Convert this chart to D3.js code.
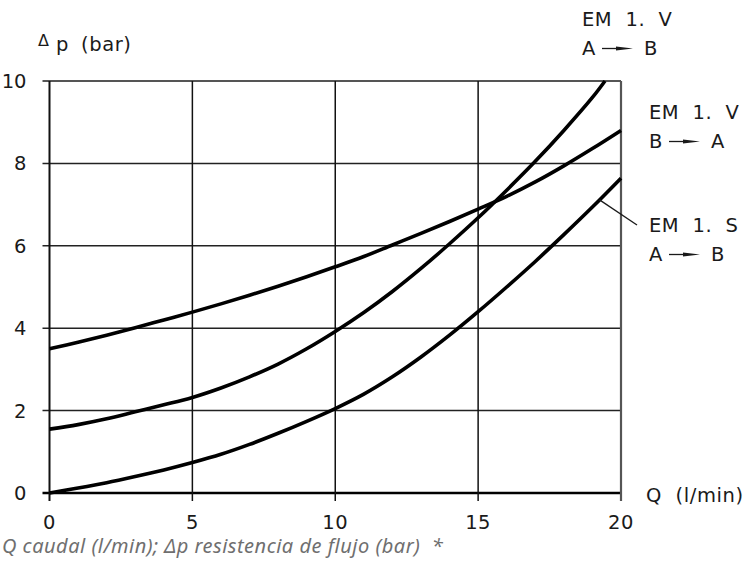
<!DOCTYPE html>
<html>
<head>
<meta charset="utf-8">
<script src="https://d3js.org/d3.v7.min.js"></script>
<style>
  body { margin: 0; background: #fff; }
  text { white-space: pre; }
</style>
</head>
<body>
<svg id="drawing_region"></svg>
<script>
// Q (l/min) and pressure drop (bar)
const flowQ = [0,1,2,3,4,5,6,7,8,9,10,11,12,13,14,15,16,17,18,19,20];
const dpV_BA = [3.5,3.66,3.83,4.01,4.2,4.39,4.59,4.8,5.02,5.25,5.49,5.74,6.02,6.3,6.59,6.89,7.2,7.55,7.94,8.36,8.8];
const flowQ_VAB = [0,1,2,3,4,5,6,7,8,9,10,11,12,13,14,15,16,17,18,19,19.44];
const dpV_AB = [1.55,1.66,1.8,1.97,2.14,2.32,2.55,2.82,3.13,3.5,3.92,4.38,4.89,5.45,6.05,6.68,7.35,8.05,8.8,9.6,10];
const dpS_AB = [0,0.12,0.25,0.4,0.56,0.74,0.94,1.18,1.45,1.74,2.05,2.4,2.82,3.3,3.83,4.4,5.0,5.62,6.27,6.94,7.64];

const xTicks = [0,5,10,15,20];
const yTicks = [0,2,4,6,8,10];

const seriesLabels = [
    { line1: "EM  1.  V", from: "A", to: "B" },
    { line1: "EM  1.  V", from: "B", to: "A" },
    { line1: "EM  1.  S", from: "A", to: "B" }
];

const caption = "Q caudal (l/min); \u0394p resistencia de flujo (bar)  *";

const config = {
    parent: '#drawing_region',
    width: 747,
    height: 566,
    margin: {top:81, right:126, bottom:73, left:49.5}
};

const font = "'DejaVu Sans', sans-serif";
const ink = '#1a1a1a';

const svg = d3.select(config.parent)
    .attr('width', config.width)
    .attr('height', config.height);

const inner_width = config.width - config.margin.left - config.margin.right;
const inner_height = config.height - config.margin.top - config.margin.bottom;

const chart = svg.append('g')
    .attr('transform', `translate(${config.margin.left}, ${config.margin.top})`);

const xscale = d3.scaleLinear().domain([0, 20]).range([0, inner_width]);
const yscale = d3.scaleLinear().domain([0, 10]).range([inner_height, 0]);

// grid: horizontal lines stick out to the left, vertical ones below
chart.selectAll('.hgrid')
    .data(yTicks)
    .join('line')
    .attr('x1', -7)
    .attr('x2', inner_width)
    .attr('y1', d => yscale(d))
    .attr('y2', d => yscale(d))
    .attr('stroke', d => d === 10 ? '#555' : (d === 0 ? '#000' : '#222'))
    .attr('stroke-width', d => d === 0 ? 2.6 : (d === 10 ? 2.2 : 1.5));

chart.selectAll('.vgrid')
    .data(xTicks)
    .join('line')
    .attr('x1', d => xscale(d))
    .attr('x2', d => xscale(d))
    .attr('y1', 0)
    .attr('y2', inner_height + 8)
    .attr('stroke', d => d === 20 ? '#555' : '#111')
    .attr('stroke-width', d => d === 20 ? 2.2 : (d === 0 ? 2 : 1.5));

// tick labels
chart.selectAll('.ylab')
    .data(yTicks)
    .join('text')
    .attr('x', -23)
    .attr('y', d => yscale(d) + 7)
    .attr('text-anchor', 'end')
    .attr('font-family', font)
    .attr('font-size', '19.5px')
    .attr('fill', ink)
    .text(d => d);

chart.selectAll('.xlab')
    .data(xTicks)
    .join('text')
    .attr('x', d => xscale(d))
    .attr('y', inner_height + 36)
    .attr('text-anchor', 'middle')
    .attr('font-family', font)
    .attr('font-size', '19.5px')
    .attr('letter-spacing', '0.5px')
    .attr('fill', ink)
    .text(d => d);

// axis titles
const ytitle = svg.append('text')
    .attr('y', 51)
    .attr('font-family', font)
    .attr('font-size', '19.5px')
    .attr('fill', ink);
ytitle.append('tspan').attr('x', 38).attr('font-size', '16px').attr('dy', -5).text('\u0394');
ytitle.append('tspan').attr('x', 56).attr('dy', 5).text('p');
ytitle.append('tspan').attr('x', 81).attr('letter-spacing', '0.6px').text('(bar)');

svg.append('text')
    .attr('x', 646)
    .attr('y', 502)
    .attr('font-family', font)
    .attr('font-size', '19.5px')
    .attr('letter-spacing', '0.6px')
    .attr('fill', ink)
    .text('Q  (l/min)');

// curves
const line = d3.line()
    .x(d => xscale(d[0]))
    .y(d => yscale(d[1]))
    .curve(d3.curveCatmullRom);

const curves = [
    d3.zip(flowQ_VAB, dpV_AB),
    d3.zip(flowQ, dpV_BA),
    d3.zip(flowQ, dpS_AB)
];

chart.selectAll('.curve')
    .data(curves)
    .join('path')
    .attr('d', line)
    .attr('fill', 'none')
    .attr('stroke', '#000')
    .attr('stroke-width', 3.6)
    .attr('stroke-linejoin', 'round');

// labels at the right of the curves
const labelPos = [ {x: 582, y: 26}, {x: 649, y: 119}, {x: 649, y: 232} ];

const labels = svg.selectAll('.lab')
    .data(seriesLabels)
    .join('g')
    .attr('transform', (d, i) => `translate(${labelPos[i].x}, ${labelPos[i].y})`);

labels.append('text')
    .attr('font-family', font)
    .attr('font-size', '19.5px')
    .attr('letter-spacing', '0.5px')
    .attr('fill', ink)
    .text(d => d.line1);

labels.append('text')
    .attr('y', 29)
    .attr('font-family', font)
    .attr('font-size', '19.5px')
    .attr('fill', ink)
    .text(d => d.from);

labels.append('line')
    .attr('x1', 20).attr('x2', 36)
    .attr('y1', 22.5).attr('y2', 22.5)
    .attr('stroke', ink)
    .attr('stroke-width', 1.3);

labels.append('path')
    .attr('d', 'M34,20.5 L51,22.5 L34,24.5 Z')
    .attr('fill', ink);

labels.append('text')
    .attr('x', 62)
    .attr('y', 29)
    .attr('font-family', font)
    .attr('font-size', '19.5px')
    .attr('fill', ink)
    .text(d => d.to);

// leader line for EM 1. S
chart.append('line')
    .attr('x1', xscale(19.25))
    .attr('y1', yscale(dpS_AB[19] + 0.25 * (dpS_AB[20] - dpS_AB[19])))
    .attr('x2', 637 - config.margin.left)
    .attr('y2', 225 - config.margin.top)
    .attr('stroke', ink)
    .attr('stroke-width', 1.3);

// caption
svg.append('text')
    .attr('x', 2)
    .attr('y', 553)
    .attr('font-family', "'Noto Sans', 'Open Sans', sans-serif")
    .attr('font-style', 'italic')
    .attr('font-size', '20px')
    .attr('letter-spacing', '0.5px')
    .attr('fill', '#6f6f6f')
    .text(caption);
</script>
</body>
</html>
